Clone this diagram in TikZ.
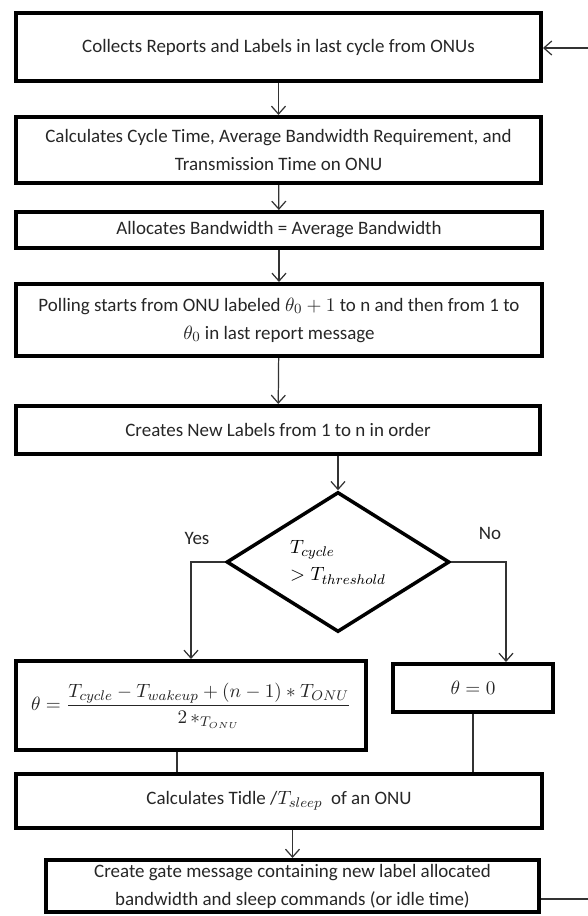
\documentclass[tikz,border=0pt]{standalone}
\usepackage{amsmath}
\usepackage{fontspec}
\setmainfont{Carlito}
\usetikzlibrary{calc}
\usetikzlibrary{shapes.geometric}
\usetikzlibrary{arrows.meta}
\tikzset{
   process/.style={draw=black, line width=2.3pt, rectangle, inner sep=0pt, align=center, text=black!85},
   decision/.style={draw=black, line width=2pt, diamond, inner sep=0pt, align=left},
   flow/.style={draw=black!80, line width=0.7pt, -{Straight Barb[length=4.5pt,width=8pt]}},
   link/.style={draw=black!80, line width=0.7pt},
    }

\begin{document}
\begin{tikzpicture}
        [x=0.02cm, y=-0.02cm, every node/.style={font=\fontsize{10.8}{15.9}\selectfont}]
        \path[use as bounding box] (0,0) rectangle (588,916);
        \clip (0,0) rectangle (588,916);

        % main column
        \node[process, minimum width=10.5cm, minimum height=1.36cm] (collect) at (278.5,47)
            {Collects Reports and Labels in last cycle from ONUs};
        \node[process, minimum width=10.5cm, minimum height=1.32cm] (cycle) at (278.5,150)
            {Calculates Cycle Time, Average Bandwidth Requirement, and\\Transmission Time on ONU};
        \node[process, minimum width=10.52cm, minimum height=0.72cm] (alloc) at (279,230)
            {Allocates Bandwidth = Average Bandwidth};
        \node[process, minimum width=10.52cm, minimum height=1.44cm] (poll) at (279,320)
            {Polling starts from ONU labeled $\theta_0+1$ to n and then from 1 to\\$\theta_0$ in last report message};
        \node[process, minimum width=10.48cm, minimum height=0.96cm] (labels) at (278,430)
            {Creates New Labels from 1 to n in order};

        % decision
        \node[decision, minimum width=4.46cm, minimum height=2.8cm] (cond) at (338,562)
            {$T_{cycle}$\\$>T_{threshold}$};
        \node[text=black!85] (yes) at (197,538) {Yes};
        \node[text=black!85] (no) at (490,533) {No};

        % branches
        \node[process, minimum width=7cm, minimum height=1.78cm] (theta) at (191,705.5)
            {$\theta=\dfrac{T_{cycle}-T_{wakeup}+(n-1)*T_{ONU}}{2\,{*}_{T_{ONU}}}$};
        \node[process, minimum width=3.2cm, minimum height=0.96cm] (zero) at (473,688)
            {$\theta=0$};

        % bottom
        \node[process, minimum width=10.52cm, minimum height=1.08cm] (idle) at (279,801)
            {Calculates Tidle /$T_{sleep}$\ \ of an ONU};
        \node[process, minimum width=9.86cm, minimum height=1.04cm] (gate) at (292.5,886)
            {Create gate message containing new label allocated\\bandwidth and sleep commands (or idle time)};

        \coordinate (noturn) at (506,562);
        \coordinate (thetaout) at ($(theta.south)+(-14,0)$);
        \coordinate (loopbot) at (600,899);
        \coordinate (looptop) at (600,48);

        % connectors
        \draw[flow] (collect) -- (cycle);
        \draw[flow] (cycle) -- (alloc);
        \draw[flow] (alloc) -- (poll);
        \draw[flow] (poll) -- (labels);
        \draw[flow] (labels.south -| cond.north) -- (cond.north);
        \draw[flow] (cond.west) -| (theta.north);
        \draw[flow] (cond.east) -- (noturn) -- (noturn |- zero.north);
        \draw[link] (thetaout) -- (thetaout |- idle.north);
        \draw[link] (zero.south) -- (zero.south |- idle.north);
        \draw[flow] (idle.south -| gate.north) -- (gate.north);
        \draw[flow] (gate.east |- loopbot) -- (loopbot) -- (looptop) -- (collect.east |- looptop);

\end{tikzpicture}
\end{document}
